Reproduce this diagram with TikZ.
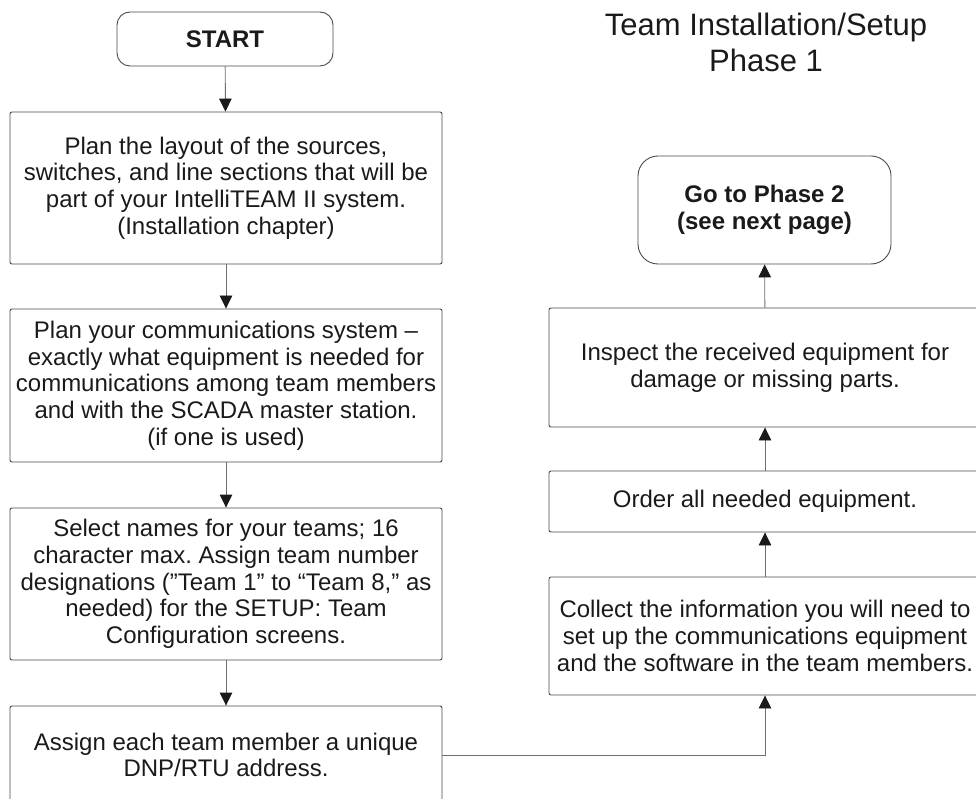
\documentclass[tikz,border=0pt]{standalone}
\usepackage{fontspec}
\setmainfont{Liberation Sans}
\usepackage{tikz}
\usetikzlibrary{arrows.meta,positioning}
\definecolor{ink}{HTML}{1A1A1A}
\definecolor{edge}{HTML}{4A4A4A}
\definecolor{wire}{HTML}{6E6E6E}
\frenchspacing

\begin{document}
\begin{tikzpicture}[x=1pt,y=-1pt,
  stepbox/.style={draw=edge,line width=.9pt,rounded corners=2pt,minimum width=432pt,inner sep=0pt,align=center,text=ink,font=\fontsize{24}{26.7}\selectfont},
  endbox/.style={draw=edge,line width=.9pt,inner sep=0pt,align=center,text=ink,font=\fontsize{24}{26.7}\selectfont\bfseries},
  flow/.style={draw=wire,line width=.9pt,-{Triangle[width=12.5pt,length=13pt,color=ink]}}]
\useasboundingbox (0,0) rectangle (976,799);
% title
\node[text=ink,align=center,font=\fontsize{31}{36}\selectfont] (title) at (766,42) {Team Installation/Setup\\Phase 1};
% left column
\node[endbox,minimum width=216pt,minimum height=54pt,rounded corners=13pt] (start) at (225,39) {START};
\node[stepbox,minimum height=152pt] (plan) at (226,188) {Plan the layout of the sources,\\switches, and line sections that will be\\part of your IntelliTEAM II system.\\(Installation chapter)};
\node[stepbox,minimum height=153pt] (comms) at (226,385.5) {Plan your communications system --\\exactly what equipment is needed for\\communications among team members\\and with the SCADA master station.\\(if one is used)};
\node[stepbox,minimum height=152pt] (names) at (226,584) {Select names for your teams; 16\\character max. Assign team number\\designations (”Team 1” to “Team 8,” as\\needed) for the SETUP: Team\\Configuration screens.};
\node[stepbox,minimum height=98pt] (assign) at (226,755) {Assign each team member a unique\\DNP/RTU address.};
% right column
\node[stepbox,minimum height=118pt] (collect) at (765,636) {Collect the information you will need to\\set up the communications equipment\\and the software in the team members.};
\node[stepbox,minimum height=61pt] (order) at (765,501.5) {Order all needed equipment.};
\node[stepbox,minimum height=119pt] (inspect) at (765,367.5) {Inspect the received equipment for\\damage or missing parts.};
\node[endbox,minimum width=253pt,minimum height=108pt,rounded corners=20pt] (goto) at (764.5,210) {Go to Phase 2\\(see next page)};
% arrows
\draw[flow] (start) -- (plan);
\draw[flow] (plan) -- (comms);
\draw[flow] (comms) -- (names);
\draw[flow] (names) -- (assign);
\draw[flow] (assign.east) -| (collect.south);
\draw[flow] (collect) -- (order);
\draw[flow] (order) -- (inspect);
\draw[flow] (inspect) -- (goto);
\end{tikzpicture}
\end{document}
